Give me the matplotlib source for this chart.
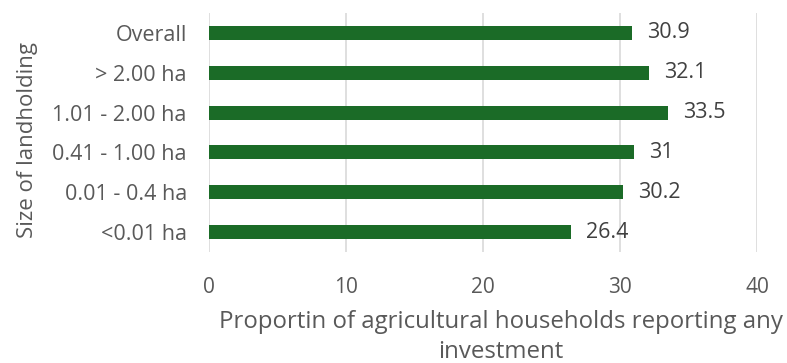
import matplotlib
matplotlib.use("Agg")
import matplotlib.pyplot as plt

categories = ["<0.01 ha", "0.01 - 0.4 ha", "0.41 - 1.00 ha", "1.01 - 2.00 ha", "> 2.00 ha", "Overall"]
values = [26.4, 30.2, 31, 33.5, 32.1, 30.9]
value_labels = ["26.4", "30.2", "31", "33.5", "32.1", "30.9"]
xticks = [0, 10, 20, 30, 40]

plt.rcParams['font.family'] = ['Open Sans', 'DejaVu Sans']

fig = plt.figure(figsize=(7.87, 3.63), dpi=100)
ax = fig.add_axes([209/787, 1-252/363, (757-209)/787, (252-13)/363])

y = list(range(len(categories)))
ax.barh(y, values, height=0.35, color="#1B6B27", zorder=3)
for yi, v, lab in zip(y, values, value_labels):
    ax.text(v + 1.1, yi, lab, va="center", ha="left", fontsize=15.5, color="#404040")

ax.set_xlim(0, 40)
ax.set_ylim(-0.5, len(categories) - 0.5)
ax.set_xticks(xticks)
ax.set_xticklabels([str(t) for t in xticks], fontsize=15, color="#595959")
ax.set_yticks(y)
ax.set_yticklabels(categories, fontsize=15.5, color="#595959")
ax.tick_params(axis="both", length=0)
ax.tick_params(axis="x", pad=18)
ax.tick_params(axis="y", pad=16)
ax.grid(axis="x", color="#D9D9D9", linewidth=1.2, zorder=0)
for s in ax.spines.values():
    s.set_visible(False)

ax.set_xlabel("Proportin of agricultural households reporting any\ninvestment", fontsize=17.3, color="#595959", linespacing=1.3)
ax.xaxis.set_label_coords((501 - 209) / 548, -(337 - 252) / 239)
ax.xaxis.label.set_va("center")
fig.text(27/787, 1-140/363, "Size of landholding", rotation=90, ha="center", va="center", fontsize=16, color="#595959")

fig.savefig("out.png", dpi=100)
